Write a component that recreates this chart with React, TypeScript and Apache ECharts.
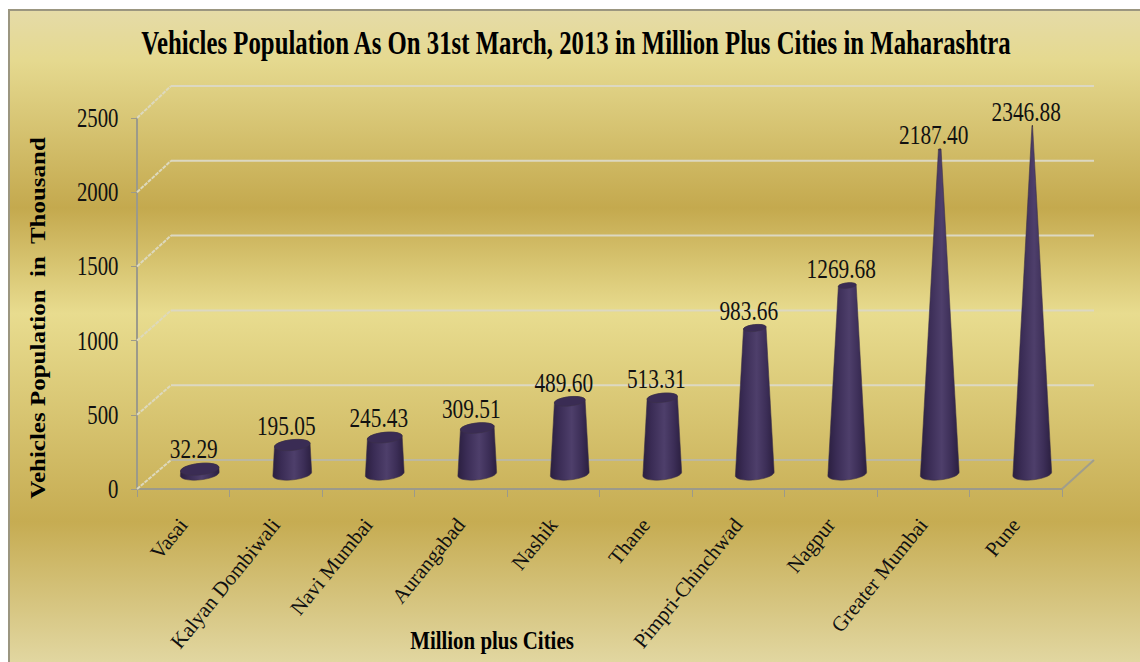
import React, { useEffect, useRef } from "react";
import * as echarts from "echarts";

const categories = ["Vasai", "Kalyan Dombiwali", "Navi Mumbai", "Aurangabad", "Nashik", "Thane", "Pimpri-Chinchwad", "Nagpur", "Greater Mumbai", "Pune"];
const vehicles = [32.29, 195.05, 245.43, 309.51, 489.6, 513.31, 983.66, 1269.68, 2187.4, 2346.88];
const valueLabels = ["32.29", "195.05", "245.43", "309.51", "489.60", "513.31", "983.66", "1269.68", "2187.40", "2346.88"];
const yTicks = [0, 500, 1000, 1500, 2000, 2500];
const titleText = "Vehicles Population As On 31st March, 2013 in Million Plus Cities in Maharashtra";
const yTitle = "Vehicles Population  in  Thousand";
const xTitle = "Million plus Cities";

const SERIF = '"Liberation Serif"';
const DEPTH_X = 34;
const DEPTH_Y = -29;
const BASE_R = 19.5;
const TILT = (-6 * Math.PI) / 180;
const MAX_V = 2346.88;

function ellipsePt(cx: number, cy: number, r: number, a: number) {
  const ry = r * 0.3;
  const ex = r * Math.cos(a);
  const ey = ry * Math.sin(a);
  return [cx + ex * Math.cos(TILT) - ey * Math.sin(TILT), cy + ex * Math.sin(TILT) + ey * Math.cos(TILT)];
}

function arc(cx: number, cy: number, r: number, from: number, to: number, n = 24) {
  const pts: number[][] = [];
  for (let i = 0; i <= n; i++) pts.push(ellipsePt(cx, cy, r, from + ((to - from) * i) / n));
  return pts;
}

function renderCone(params: any, api: any) {
  const i = api.value(0);
  const v = api.value(1);
  const base = api.coord([i, 0]);
  const top = api.coord([i, v]);
  const cx = base[0] + DEPTH_X / 2 - 0.5;
  const by = base[1] + DEPTH_Y / 2 - 0.5;
  const ty = top[1] + DEPTH_Y / 2 - 0.5;
  const tr = Math.max(BASE_R * (1 - v / MAX_V), 0.3);
  const body = [...arc(cx, by, BASE_R, 0, Math.PI), ...arc(cx, ty, tr, Math.PI, 2 * Math.PI)];
  const cap = arc(cx, ty, tr, 0, 2 * Math.PI, 32);
  const labelY = ty - tr * 0.3 - 1;
  return {
    type: "group",
    children: [
      {
        type: "polygon",
        shape: { points: body },
        style: {
          fill: {
            type: "linear", x: 0, y: 0, x2: 1, y2: 0,
            colorStops: [
              { offset: 0, color: "#2b1f40" },
              { offset: 0.22, color: "#3a2c55" },
              { offset: 0.55, color: "#4e3f6b" },
              { offset: 0.8, color: "#3c2e57" },
              { offset: 1, color: "#2b1f40" },
            ],
          },
          stroke: "rgba(60,50,70,0.55)",
          lineWidth: 1,
        },
      },
      {
        type: "polygon",
        shape: { points: cap },
        style: { fill: "#3a2c54", stroke: "rgba(60,50,70,0.5)", lineWidth: 1 },
      },
      {
        type: "text",
        x: cx - 6,
        y: labelY,
        scaleX: 0.79,
        style: {
          text: valueLabels[i],
          x: 0, y: 0,
          align: "center",
          verticalAlign: "bottom",
          font: `27px ${SERIF}`,
          fill: "#111111",
        },
      },
    ],
  };
}

function renderGrid(params: any, api: any) {
  const v = api.value(1);
  const first = api.coord([0, v]);
  const last = api.coord([categories.length - 1, v]);
  const half = api.size([1, 0])[0] / 2;
  const lx = first[0] - half;
  const rx = last[0] + half;
  const y = first[1];
  const dy = DEPTH_Y - (v / 2500) * 3;
  const line = (points: number[][], stroke: string, lineDash?: number[]) => ({
    type: "polyline",
    shape: { points },
    style: { stroke, lineWidth: 2, fill: "none", lineDash },
  });
  const children: any[] = [
    line([[lx, y], [lx + DEPTH_X, y + dy]], "#ddd9bd", [4, 1]),
    line([[lx + DEPTH_X, y + dy], [rx + DEPTH_X - 2, y + dy]], v === 0 ? "#bcb8a0" : "#dcd8c2"),
  ];
  if (v === 0) {
    children.push({
      type: "polyline",
      shape: { points: [[rx, y], [rx + DEPTH_X - 2, y + dy]] },
      style: { stroke: "#a09e8c", lineWidth: 2, fill: "none" },
    });
  }
  const labelX = first[0] - half - 18.5;
  children.push({
    type: "text",
    x: labelX,
    y: y,
    scaleX: 0.77,
    style: {
      text: String(v),
      x: 0, y: 0,
      align: "right",
      verticalAlign: "middle",
      font: `27px ${SERIF}`,
      fill: "#111111",
    },
  });
  return { type: "group", children };
}

export default function App() {
  const ref = useRef<HTMLDivElement>(null);
  useEffect(() => {
    const chart = echarts.init(ref.current!, null, { renderer: "svg", width: 1140, height: 662 });
    chart.setOption({
      animation: false,
      backgroundColor: "#ffffff",
      grid: { left: 137, width: 925, top: 118, height: 371, containLabel: false },
      xAxis: {
        type: "category",
        data: categories,
        boundaryGap: true,
        axisLine: { lineStyle: { color: "#9c9a8a", width: 2 } },
        axisTick: { show: true, length: 8, alignWithLabel: false, lineStyle: { color: "#9c9a8a", width: 1 } },
        axisLabel: {
          interval: 0,
          rotate: 51,
          margin: 32,
          fontFamily: SERIF,
          fontSize: 21,
          color: "#111111",
        },
      },
      yAxis: {
        type: "value",
        min: 0,
        max: 2500,
        interval: 500,
        axisLine: { show: true, lineStyle: { color: "#9c9a8a", width: 2 } },
        axisTick: { show: true, length: 6, lineStyle: { color: "#9c9a8a", width: 1 } },
        axisLabel: { show: false },
        splitLine: { show: false },
      },
      graphic: [
        {
          type: "rect",
          z: -10,
          shape: { x: 9, y: 10, width: 1140, height: 660 },
          style: {
            fill: {
              type: "linear", x: 0, y: 0, x2: 0, y2: 1,
              colorStops: [
                { offset: 0, color: "#e5dba8" },
                { offset: 0.077, color: "#e5d98f" },
                { offset: 0.3, color: "#c4a94e" },
                { offset: 0.46, color: "#e8dc8f" },
                { offset: 0.775, color: "#c6ac52" },
                { offset: 1, color: "#e3d9a5" },
              ],
            },
            stroke: "#9b9680",
            lineWidth: 2,
          },
        },
        {
          type: "text",
          x: 576,
          y: 43,
          z: 10,
          scaleX: 0.74,
          style: {
            text: titleText,
            align: "center",
            verticalAlign: "middle",
            font: `bold 33.5px ${SERIF}`,
            fill: "#000000",
          },
        },
        {
          type: "text",
          x: 492,
          y: 640,
          z: 10,
          scaleX: 0.82,
          style: {
            text: xTitle,
            align: "center",
            verticalAlign: "middle",
            font: `bold 25.5px ${SERIF}`,
            fill: "#000000",
          },
        },
        {
          type: "text",
          x: 38,
          y: 318,
          z: 10,
          rotation: Math.PI / 2,
          scaleY: 0.85,
          style: {
            text: yTitle,
            align: "center",
            verticalAlign: "middle",
            font: `bold 25px ${SERIF}`,
            fill: "#000000",
          },
        },
      ],
      series: [
        {
          type: "custom",
          z: 1,
          clip: false,
          silent: true,
          renderItem: renderGrid,
          data: yTicks.map((v) => [0, v]),
        },
        {
          type: "custom",
          z: 3,
          clip: false,
          silent: true,
          renderItem: renderCone,
          data: vehicles.map((v, i) => [i, v]),
        },
      ],
    });
    return () => chart.dispose();
  }, []);
  return <div ref={ref} style={{ position: "absolute", left: 0, top: 0, width: 1140, height: 662 }} />;
}
